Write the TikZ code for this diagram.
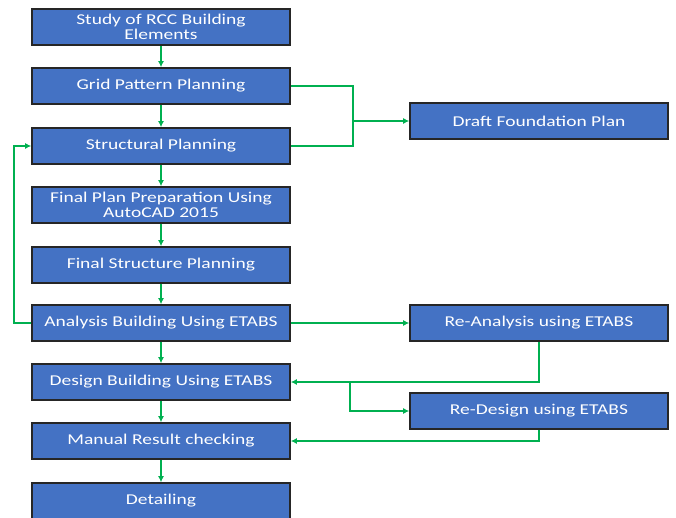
\documentclass[tikz,border=0pt]{standalone}
\usepackage{fontspec}
\setmainfont{Carlito}[FakeStretch=1.3]
\usetikzlibrary{arrows.meta}
\definecolor{boxblue}{RGB}{68,114,196}
\definecolor{arrgreen}{RGB}{0,176,80}
\tikzset{
  stepbox/.style={draw=black!85, line width=1.6pt, fill=boxblue, text=white,
    minimum width=258pt, minimum height=36pt, inner sep=0pt, align=center,
    font=\fontsize{15}{15}\selectfont},
  conn/.style={draw=arrgreen, line width=2pt},
  arr/.style={conn, -{Latex[length=6pt,width=6pt]}}
}
\begin{document}
\begin{tikzpicture}[x=1pt,y=-1pt]
\useasboundingbox (0,0) rectangle (676,518);
\node[stepbox] (b1) at (161,27) {Study of RCC Building\\Elements};
\node[stepbox] (b2) at (161,86) {Grid Pattern Planning};
\node[stepbox] (b3) at (161,146) {Structural Planning};
\node[stepbox] (b4) at (161,205) {Final Plan Preparation Using\\AutoCAD 2015};
\node[stepbox] (b5) at (161,265) {Final Structure Planning};
\node[stepbox] (b6) at (161,323) {Analysis Building Using ETABS};
\node[stepbox] (b7) at (161,382) {Design Building Using ETABS};
\node[stepbox] (b8) at (161,441) {Manual Result checking};
\node[stepbox] (b9) at (161,501) {Detailing};
\node[stepbox] (draft) at (539,121) {Draft Foundation Plan};
\node[stepbox] (rean) at (539,323) {Re-Analysis using ETABS};
\node[stepbox] (redes) at (539,411) {Re-Design using ETABS};
\draw[arr] (b1) -- (b2);
\draw[arr] (b2) -- (b3);
\draw[arr] (b3) -- (b4);
\draw[arr] (b4) -- (b5);
\draw[arr] (b5) -- (b6);
\draw[arr] (b6) -- (b7);
\draw[arr] (b7) -- (b8);
\draw[arr] (b8) -- (b9);
\coordinate (jx) at (353,121);
\draw[conn] (b2.east) -| (jx);
\draw[conn] (b3.east) -| (jx);
\draw[arr] (jx) -- (draft.west);
\draw[arr] (b6.west) -- ++(-17,0) |- (b3.west);
\draw[arr] (b6.east) -- (rean.west);
\draw[arr] (rean.south) |- (b7.east);
\coordinate (jb) at (350,382);
\draw[arr] (jb) |- (redes.west);
\draw[arr] (redes.south) |- (b8.east);
\end{tikzpicture}
\end{document}
